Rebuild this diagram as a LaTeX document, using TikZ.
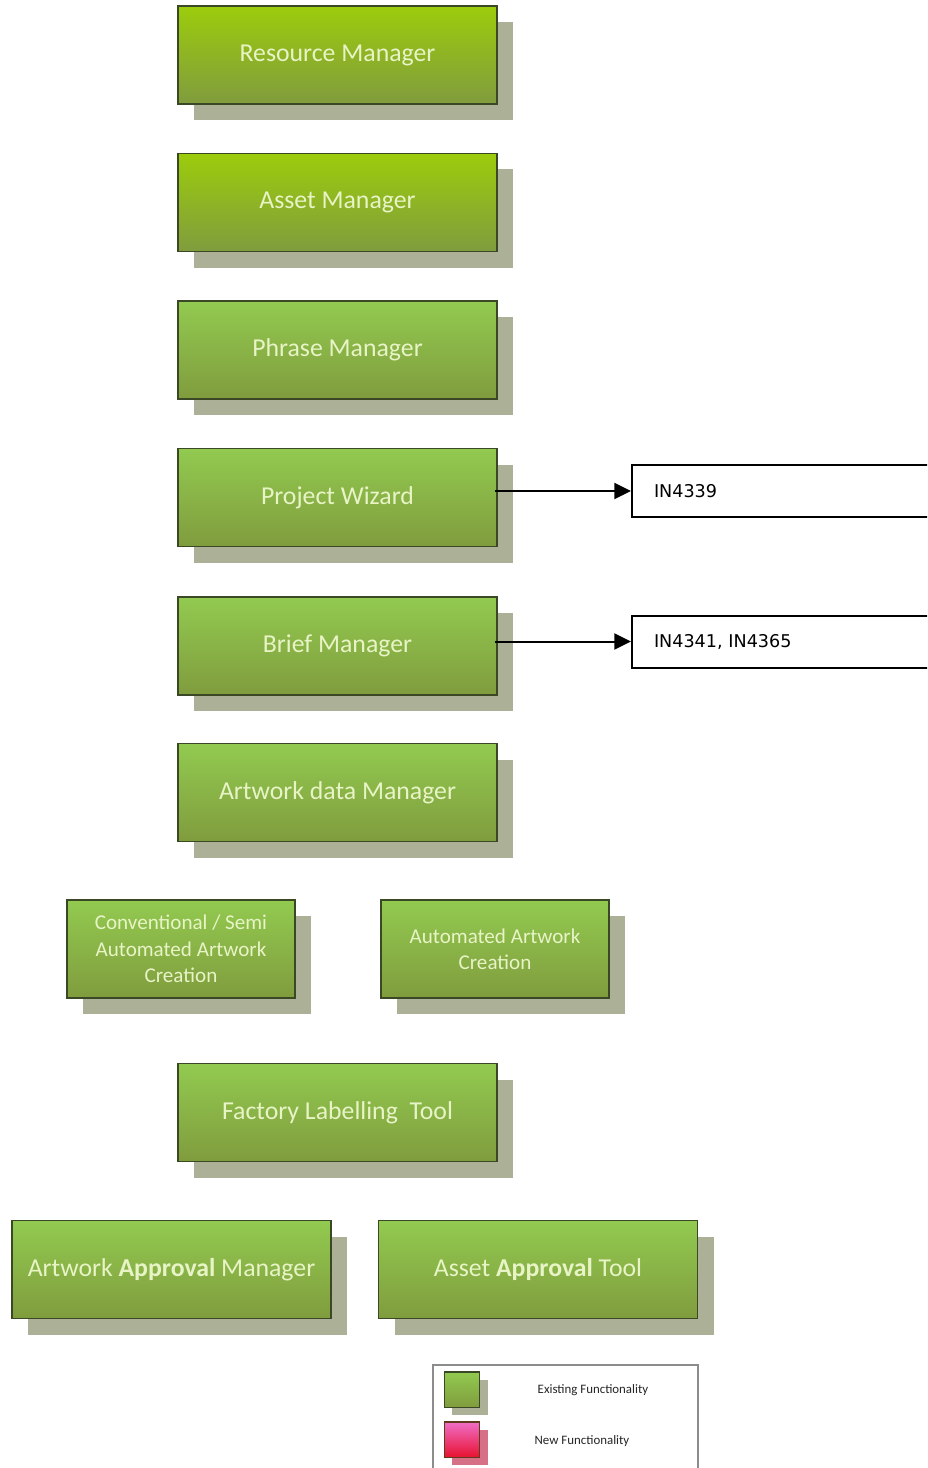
\documentclass[tikz,border=0pt]{standalone}
\usepackage{fontspec}
\setmainfont{Carlito}
\newfontfamily\refont{DejaVu Sans}
\usepackage{xcolor}
\usetikzlibrary{arrows.meta,shadows,positioning}
\definecolor{limetop}{RGB}{156,204,12}
\definecolor{greentop}{RGB}{146,202,80}
\definecolor{greenbot}{RGB}{128,156,62}
\definecolor{boxedge}{RGB}{58,72,38}
\definecolor{paletext}{RGB}{232,243,198}
\definecolor{shadowgrey}{RGB}{172,176,150}
\definecolor{pinktop}{RGB}{240,110,200}
\definecolor{redbot}{RGB}{232,18,48}
\definecolor{pinkshadow}{RGB}{214,112,134}
\definecolor{legendedge}{RGB}{140,140,140}

\begin{document}
\begin{tikzpicture}[x=0.03cm,y=-0.03cm,
module/.style={rectangle,draw=boxedge,line width=0.5mm,top color=greentop,bottom color=greenbot,text=paletext,align=center,minimum width=95.7mm,minimum height=29.4mm,font=\fontsize{22}{26}\selectfont,drop shadow={shadow xshift=4.8mm,shadow yshift=-4.8mm,fill=shadowgrey,opacity=1}},
limemodule/.style={module,top color=limetop},
smallmodule/.style={module,minimum width=68.4mm,font=\fontsize{18}{22.5}\selectfont},
refbox/.style={rectangle,draw=black,line width=0.6mm,fill=white,text=black,align=left,text width=79.2mm,inner xsep=6.6mm,minimum height=15.6mm,font=\refont\fontsize{15}{18}\selectfont},
swatch/.style={rectangle,draw=boxedge,line width=0.4mm,minimum size=10.6mm,inner sep=0pt,top color=greentop,bottom color=greenbot,drop shadow={shadow xshift=2.4mm,shadow yshift=-2.4mm,fill=shadowgrey,opacity=1}},
legendtext/.style={font=\fontsize{11}{13}\selectfont,text=black!85},
refarrow/.style={line width=0.6mm,-{Triangle[length=5mm,width=4.8mm]}}]
\useasboundingbox (0,0) rectangle (927,1468);
\clip (0,0) rectangle (927,1468);
\node (rm) at (337.5,55) [limemodule] {Resource Manager};
\node (am) at (337.5,202.5) [limemodule] {Asset Manager};
\node (pm) at (337.5,350) [module] {Phrase Manager};
\node (pw) at (337.5,497.5) [module] {Project Wizard};
\node (bm) at (337.5,646) [module] {Brief Manager};
\node (adm) at (337.5,792.5) [module] {Artwork data Manager};
\node (conv) at (181,949) [smallmodule] {Conventional / Semi\\Automated Artwork\\Creation};
\node (auto) at (495,949) [smallmodule] {Automated Artwork\\Creation};
\node (flt) at (337.5,1112.5) [module] {Factory Labelling~ Tool};
\node (aam) at (171.5,1269.5) [module] {Artwork \textbf{Approval} Manager};
\node (aat) at (538,1269.5) [module] {Asset \textbf{Approval} Tool};
\node (in1) at (786,491) [refbox] {IN4339};
\node (in2) at (786,641.5) [refbox] {IN4341, IN4365};
\draw[refarrow] ([xshift=-0.9mm]pw.east |- in1.west) -- (in1.west);
\draw[refarrow] ([xshift=-0.9mm]bm.east |- in2.west) -- (in2.west);
\node (lg) at (565.5,1425) [rectangle,draw=legendedge,line width=0.4mm,fill=white,minimum width=79.5mm,minimum height=36mm] {};
\node (old) at (462,1389.5) [swatch] {};
\node (new) at (462,1439.5) [swatch,draw=boxedge!80!red,top color=pinktop,bottom color=redbot,drop shadow={shadow xshift=2.4mm,shadow yshift=-2.4mm,fill=pinkshadow,opacity=1}] {};
\node (oldtext) at (593,1390) [legendtext] {Existing Functionality};
\node (newtext) at (582,1441) [legendtext] {New Functionality};
\end{tikzpicture}
\end{document}
